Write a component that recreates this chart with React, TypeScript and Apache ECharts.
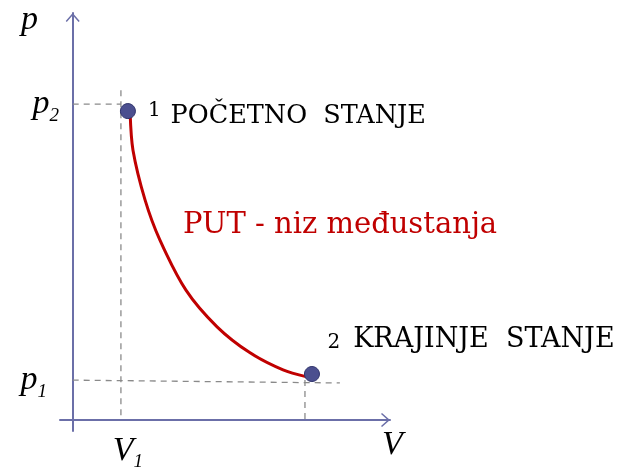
import React, { useEffect, useRef } from 'react';
import * as echarts from 'echarts';

// States (V, p) of the two marked points
const stateV = [1.74, 7.54];
const stateP = [7.59, 1.13];
const stateNumbers = ['1', '2'];
const stateNames = ['POČETNO  STANJE', 'KRAJINJE  STANJE'];

// Path between the states
const pathV = [1.81, 1.9, 2.28, 2.75, 3.57, 4.55, 5.59, 6.63, 7.38];
const pathP = [7.54, 6.63, 5.41, 4.42, 3.19, 2.29, 1.65, 1.23, 1.06];
const pathLabel = 'PUT - niz međustanja';

// Tick labels
const tickV = [1.52];
const tickVMain = ['V'];
const tickVSub = ['1'];
const tickP = [0.98, 7.76];
const tickPMain = ['p', 'p'];
const tickPSub = ['1', '2'];

// Dashed guide segments: [start, end]
const guideV = [[0, 1.52], [1.52, 1.52], [0, 8.42], [7.32, 7.32]];
const guideP = [[7.76, 7.76], [8.1, 0], [0.98, 0.91], [0.98, 0]];

const axisNames = { x: 'V', y: 'p' };

const SERIF = "'DejaVu Serif', serif";
const ITALIC = "'Liberation Serif', serif";
const AXIS_COLOR = '#6b6fa8';
const CHEVRON = 'path://M0,8 L7,0 L14,8 L12.9,9 L7,2.3 L1.1,9 Z';

function nearestIndex(arr: number[], v: number) {
  let best = 0;
  for (let i = 1; i < arr.length; i++) {
    if (Math.abs(arr[i] - v) < Math.abs(arr[best] - v)) best = i;
  }
  return best;
}

const mainStyle = { fontFamily: ITALIC, fontStyle: 'italic', fontSize: 34, color: '#000', verticalAlign: 'bottom', padding: [0, 0, 5, 0] };
const subStyle = { fontFamily: ITALIC, fontStyle: 'italic', fontSize: 19, color: '#000', verticalAlign: 'bottom' };

export default function App() {
  const ref = useRef<HTMLDivElement>(null);
  useEffect(() => {
    if (!ref.current) return;
    const chart = echarts.init(ref.current, null, { renderer: 'svg' });

    const guideSeries = guideV.map((vs, i) => ({
      type: 'line',
      data: [[vs[0], guideP[i][0]], [vs[1], guideP[i][1]]],
      showSymbol: false,
      silent: true,
      z: 1,
      lineStyle: { color: '#8a8a8a', width: 1.3, type: [6, 5] },
    }));

    const option: any = {
      animation: false,
      grid: { left: 60, top: 13, width: 330, height: 418, outerBoundsMode: 'none', containLabel: false },
      xAxis: {
        type: 'value',
        min: -0.4,
        max: 10,
        splitLine: { show: false },
        axisTick: { show: false },
        axisLine: {
          onZero: true,
          lineStyle: { color: AXIS_COLOR, width: 2 },
          symbol: ['none', CHEVRON],
          symbolSize: [14, 9],
          symbolOffset: [0, -4.5],
        },
        axisLabel: {
          customValues: tickV,
          margin: 0,
          formatter: (v: number) => {
            const i = nearestIndex(tickV, v);
            return `{m|${tickVMain[i]}}{s|${tickVSub[i]}}`;
          },
          rich: { m: { ...mainStyle, padding: [0, 0, 5, 14] }, s: subStyle },
        },
      },
      yAxis: {
        type: 'value',
        min: -0.27,
        max: 10,
        splitLine: { show: false },
        axisTick: { show: false },
        axisLine: {
          onZero: true,
          lineStyle: { color: AXIS_COLOR, width: 2 },
          symbol: ['none', CHEVRON],
          symbolSize: [14, 9],
          symbolOffset: [0, -4.5],
        },
        axisLabel: {
          customValues: tickP,
          margin: 1,
          formatter: (v: number) => {
            const i = nearestIndex(tickP, v);
            return `{m|${tickPMain[i]}}{${i === 0 ? 'sp' : 's'}|${tickPSub[i]}}`;
          },
          rich: { m: mainStyle, s: subStyle, sp: { ...subStyle, padding: [0, 12, 0, 0] } },
        },
      },
      graphic: [
        {
          type: 'text',
          left: 21,
          top: 0,
          style: { text: axisNames.y, font: `italic 34px ${ITALIC}`, fill: '#000' },
        },
        {
          type: 'text',
          left: 382,
          top: 425,
          style: { text: axisNames.x, font: `italic 34px ${ITALIC}`, fill: '#000' },
        },
        {
          type: 'text',
          left: 183,
          top: 208,
          style: { text: pathLabel, font: `29px ${SERIF}`, fill: '#c00000' },
        },
      ],
      series: [
        ...guideSeries,
        {
          type: 'line',
          data: pathV.map((v, i) => [v, pathP[i]]),
          smooth: 0.3,
          showSymbol: false,
          z: 3,
          lineStyle: { color: '#c00000', width: 3 },
        },
        {
          type: 'scatter',
          z: 4,
          symbolSize: 15,
          itemStyle: { color: '#4b4f8f', borderColor: '#2f336b', borderWidth: 1, opacity: 1 },
          data: stateV.map((v, i) => ({
            value: [v, stateP[i]],
            label: {
              show: true,
              position: 'right',
              distance: i === 0 ? 12 : 7.5,
              offset: i === 0 ? [0, 2] : [0, -37],
              formatter: `{n|${stateNumbers[i]}}{t|${stateNames[i]}}`,
              rich: {
                n: {
                  fontFamily: SERIF,
                  fontSize: 20,
                  color: '#000',
                  verticalAlign: i === 0 ? 'top' : 'bottom',
                  padding: [0, i === 0 ? 10 : 13, 0, 0],
                },
                t: {
                  fontFamily: SERIF,
                  fontSize: i === 0 ? 25.5 : 27,
                  color: '#000',
                  verticalAlign: 'bottom',
                  padding: i === 0 ? [2, 0, 0, 0] : [0, 0, 0, 0],
                },
              },
            },
          })),
        },
      ],
    };
    chart.setOption(option);
    return () => chart.dispose();
  }, []);
  return <div ref={ref} style={{ position: 'fixed', left: 0, top: 0, width: 628, height: 471 }} />;
}
